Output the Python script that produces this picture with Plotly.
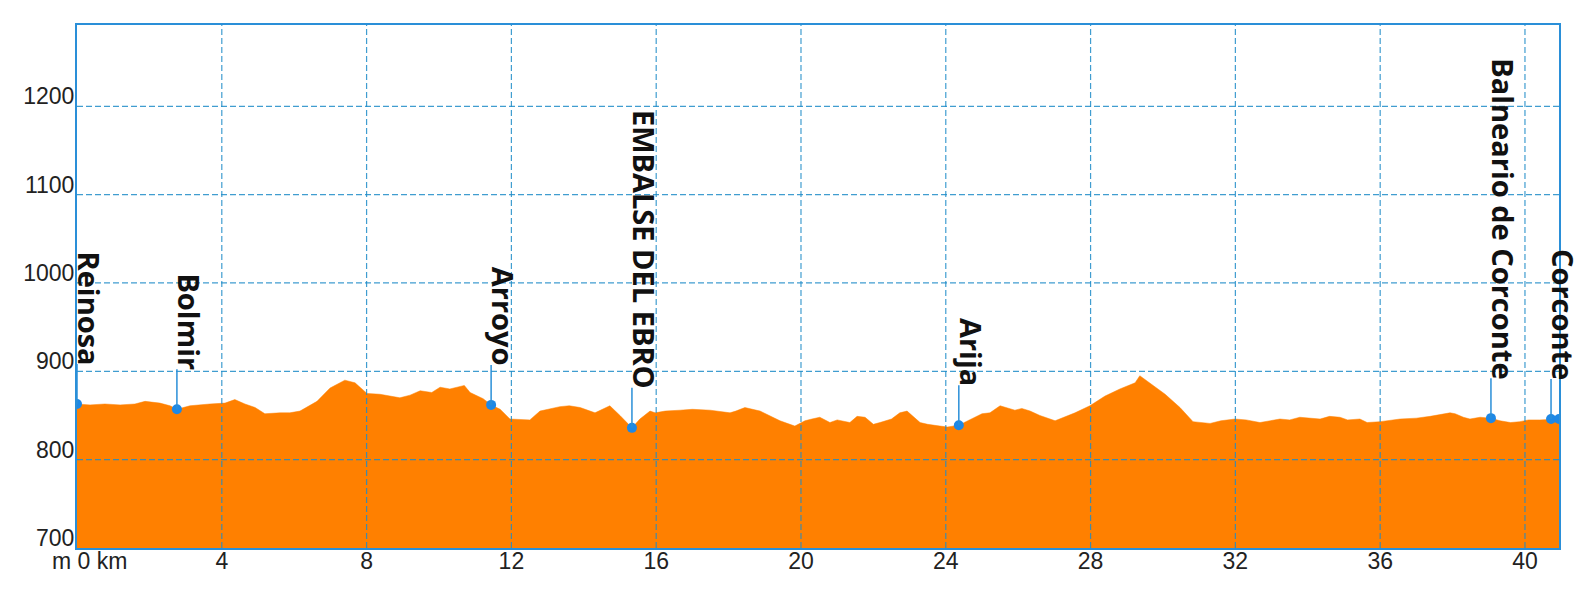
import plotly.graph_objects as go

# ---- elevation profile (km, m) ----
profile_km = [0.00, 0.36, 0.77, 1.19, 1.60, 1.88, 2.29, 2.57, 2.76, 3.12, 3.67, 4.09, 4.36, 4.64,
              4.92, 5.19, 5.61, 5.88, 6.16, 6.63, 6.99, 7.40, 7.68, 8.01, 8.37, 8.92, 9.20, 9.48,
              9.80, 10.03, 10.30, 10.58, 10.70, 10.86, 11.22, 11.44, 11.69, 11.96, 12.51, 12.79,
              13.05, 13.34, 13.60, 13.90, 14.31, 14.72, 15.00, 15.33, 15.55, 15.83, 15.97, 16.25,
              16.66, 17.00, 17.49, 18.04, 18.20, 18.45, 18.87, 19.42, 19.83, 20.11, 20.30, 20.52,
              20.80, 21.00, 21.35, 21.55, 21.77, 22.00, 22.18, 22.50, 22.73, 22.93, 23.29, 23.50,
              23.84, 24.05, 24.36, 24.81, 25.00, 25.22, 25.50, 25.91, 26.10, 26.33, 26.60, 27.02,
              27.57, 27.98, 28.40, 28.81, 29.23, 29.36, 29.64, 30.06, 30.47, 30.83, 31.30, 31.60,
              31.99, 32.30, 32.68, 33.23, 33.50, 33.78, 34.34, 34.60, 34.89, 35.10, 35.44, 35.64,
              36.00, 36.55, 37.00, 37.38, 37.93, 38.07, 38.30, 38.48, 38.76, 39.06, 39.31, 39.60,
              39.86, 40.10, 40.41, 40.72, 40.94]
profile_elev = [863, 862, 863, 862, 863, 866, 864, 861, 857, 861, 863, 864, 868, 863,
                859, 852, 853, 853, 855, 866, 881, 890, 887, 875, 874, 870, 873, 878,
                876, 882, 880, 883, 884, 876, 869, 862, 857, 846, 845, 855,
                857, 860, 861, 859, 853, 861, 850, 836, 846, 855, 853, 855,
                856, 857, 856, 853, 855, 859, 855, 844, 838, 844, 846, 848,
                842, 845, 842, 849, 848, 840, 842, 846, 853, 855, 842, 840,
                838, 837, 839, 848, 852, 853, 861, 856, 858, 855, 850, 844,
                853, 861, 872, 880, 887, 895, 887, 874, 859, 843, 841, 844,
                846, 845, 842, 846, 845, 848, 846, 849, 848, 845, 846, 842,
                843, 846, 847, 849, 853, 852, 848, 846, 848, 847, 844, 842,
                843, 845, 845, 846, 846]

# ---- waypoints ----
wp_names = ["Reinosa", "Bolmir", "Arroyo", "EMBALSE DEL EBRO", "Arija",
            "Balneario de Corconte", "Corconte"]
wp_km = [0.00, 2.76, 11.44, 15.33, 24.36, 39.06, 40.72]
wp_elev = [863, 857, 862, 836, 839, 847, 846]
end_km = [40.94]
end_elev = [846]

# ---- axes ----
x_ticks = [4, 8, 12, 16, 20, 24, 28, 32, 36, 40]
y_ticks = [700, 800, 900, 1000, 1100, 1200]
x_range = [0, 40.94]
y_range = [700, 1292]

ORANGE = "#ff8000"
BLUE = "#1e88e5"
AXIS = "#2a8fd8"
GRID = "rgba(30,140,200,0.85)"

fig = go.Figure()
fig.add_trace(go.Scatter(x=profile_km, y=profile_elev, mode="lines", fill="tozeroy",
                         fillcolor=ORANGE, line=dict(color=ORANGE, width=0.5),
                         hoverinfo="skip", showlegend=False))
fig.add_trace(go.Scatter(x=wp_km + end_km, y=wp_elev + end_elev, mode="markers",
                         marker=dict(color=BLUE, size=10), showlegend=False))

shapes = []
for v in x_ticks:
    shapes.append(dict(type="line", xref="x", yref="paper", x0=v, x1=v, y0=0, y1=1,
                       layer="above", line=dict(color=GRID, width=1.2, dash="6px,3px")))
for v in y_ticks[1:]:
    shapes.append(dict(type="line", xref="paper", yref="y", x0=0, x1=1, y0=v, y1=v,
                       layer="above", line=dict(color=GRID, width=1.2, dash="6px,3px")))
for k, e in zip(wp_km, wp_elev):
    shapes.append(dict(type="line", xref="x", yref="y", x0=k, x1=k,
                       ysizemode="pixel", yanchor=e, y0=0, y1=40,
                       layer="above", line=dict(color=AXIS, width=1.5)))

annotations = []
for n, k, e in zip(wp_names, wp_km, wp_elev):
    annotations.append(dict(text=n, x=k, y=e, xref="x", yref="y", showarrow=False,
                            textangle=90, xanchor="left", yanchor="bottom",
                            xshift=-9, yshift=37,
                            font=dict(family="Open Sans", size=29, weight="bold", color="#111")))
annotations.append(dict(text="m 0 km", x=0, y=0, xref="x", yref="paper", showarrow=False,
                        xanchor="center", yanchor="top", xshift=12, yshift=1, borderpad=0,
                        font=dict(family="Liberation Sans, Arial", size=23, color="#222")))

fig.update_layout(
    width=1584, height=593,
    margin=dict(l=77, r=25, t=25, b=45),
    plot_bgcolor="white", paper_bgcolor="white",
    shapes=shapes, annotations=annotations,
    xaxis=dict(range=x_range, tickvals=x_ticks, ticktext=[str(v) for v in x_ticks],
               showgrid=False, zeroline=False, showline=True, mirror=True,
               linecolor=AXIS, linewidth=2, ticks="", ticklabelstandoff=-9,
               tickfont=dict(family="Liberation Sans, Arial", size=23, color="#222")),
    yaxis=dict(range=y_range, tickvals=y_ticks, ticktext=[str(v) for v in y_ticks],
               showgrid=False, zeroline=False, showline=True, mirror=True,
               linecolor=AXIS, linewidth=2, ticks="", ticklabelshift=-10, ticklabelstandoff=-4,
               tickfont=dict(family="Liberation Sans, Arial", size=23, color="#222")),
    hovermode=False,
)

fig.write_html("out.html", config={"displayModeBar": False},
               post_script="document.body.style.margin='0';")
